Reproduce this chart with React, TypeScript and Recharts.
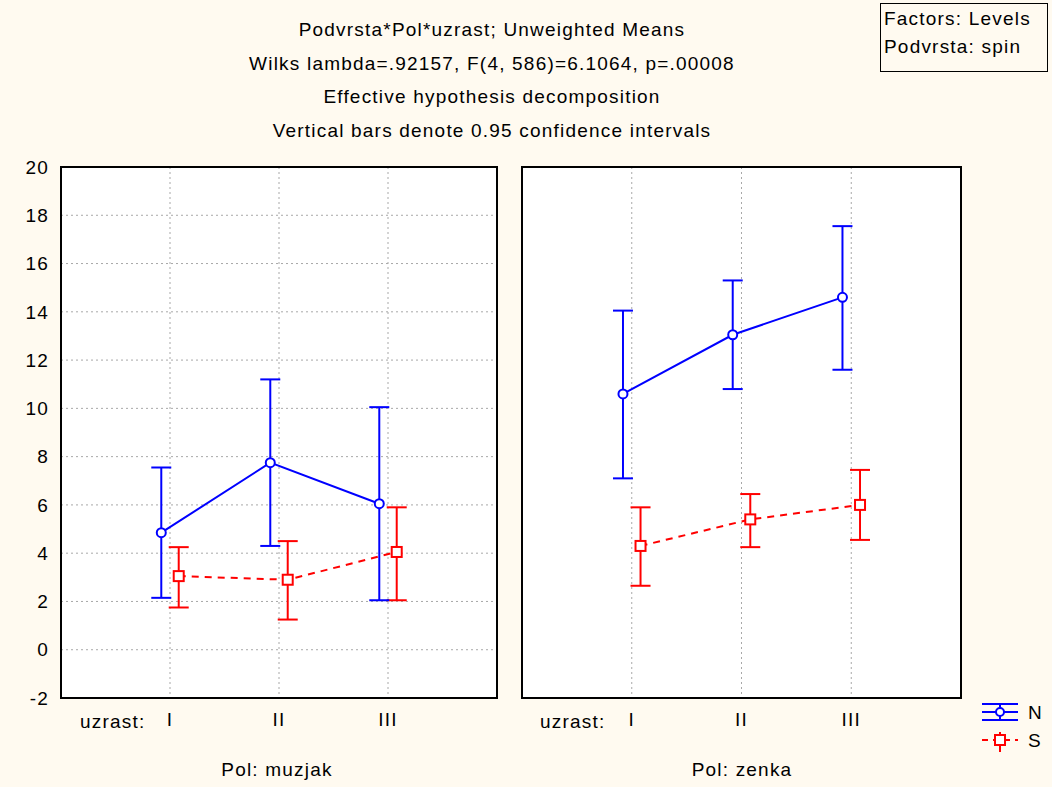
import React from "react";
import {
  ComposedChart, Line, XAxis, YAxis, CartesianGrid, ErrorBar, ReferenceArea
} from "recharts";

const LEVELS = ["I", "II", "III"];
const Y_TICKS = [-2, 0, 2, 4, 6, 8, 10, 12, 14, 16, 18, 20];
const TITLE_LINES = [
  "Podvrsta*Pol*uzrast; Unweighted Means",
  "Wilks lambda=.92157, F(4, 586)=6.1064, p=.00008",
  "Effective hypothesis decomposition",
  "Vertical bars denote 0.95 confidence intervals",
];

// Pol: muzjak
const N_MUZJAK_MEAN = [4.85, 7.75, 6.05];
const N_MUZJAK_LOW = [2.15, 4.3, 2.05];
const N_MUZJAK_HIGH = [7.55, 11.2, 10.05];
const S_MUZJAK_MEAN = [3.05, 2.9, 4.05];
const S_MUZJAK_LOW = [1.75, 1.25, 2.05];
const S_MUZJAK_HIGH = [4.25, 4.5, 5.9];

// Pol: zenka
const N_ZENKA_MEAN = [10.6, 13.05, 14.6];
const N_ZENKA_LOW = [7.1, 10.8, 11.6];
const N_ZENKA_HIGH = [14.05, 15.3, 17.55];
const S_ZENKA_MEAN = [4.3, 5.4, 6.0];
const S_ZENKA_LOW = [2.65, 4.25, 4.55];
const S_ZENKA_HIGH = [5.9, 6.45, 7.45];

const BLUE = "#0000FF";
const RED = "#FF0000";
const FONT = "'Liberation Sans', Arial, sans-serif";
const FS = 19;
const LS = 1.2;
const JITTER = 0.08;

function series(mean: number[], low: number[], high: number[], shift: number) {
  return mean.map((m, i) => ({
    x: i + 1 + shift,
    y: m,
    err: [m - low[i], high[i] - m],
  }));
}

const CircleDot = (p: any) => (
  <circle key={`c${p.index}`} cx={p.cx} cy={p.cy} r={4.5} fill="#fff" stroke={BLUE} strokeWidth={2} />
);
const SquareDot = (p: any) => (
  <rect key={`s${p.index}`} x={p.cx - 5} y={p.cy - 5} width={10} height={10} fill="#fff" stroke={RED} strokeWidth={2} />
);

const tickStyle = { fill: "#000", fontSize: FS, fontFamily: FONT, letterSpacing: LS };

interface PanelProps {
  n: any[];
  s: any[];
  left: number;
  width: number;
  marginLeft: number;
  marginRight: number;
  showY: boolean;
}

function Panel({ n, s, left, width, marginLeft, marginRight, showY }: PanelProps) {
  return (
    <div style={{ position: "absolute", left, top: 0 }}>
      <ComposedChart
        width={width}
        height={787}
        margin={{ top: 167, right: marginRight, left: marginLeft, bottom: 59 }}
      >
        <CartesianGrid fill="#fff" stroke="#a8a8a8" strokeDasharray="2 3" />
        <XAxis
          type="number"
          dataKey="x"
          domain={[0, 4]}
          ticks={[1, 2, 3]}
          tickFormatter={(v: number) => LEVELS[v - 1] ?? ""}
          height={30}
          axisLine={false}
          tickLine={false}
          tickSize={0}
          tickMargin={15}
          tick={tickStyle}
        />
        <YAxis
          type="number"
          domain={[-2, 20]}
          ticks={Y_TICKS}
          width={showY ? 45 : 0}
          axisLine={false}
          tickLine={false}
          tickSize={0}
          tickMargin={12}
          tick={showY ? tickStyle : false}
        />
        <Line
          data={s}
          dataKey="y"
          stroke={RED}
          strokeWidth={2}
          strokeDasharray="7 6"
          dot={SquareDot}
          activeDot={false}
          isAnimationActive={false}
        >
          <ErrorBar dataKey="err" direction="y" width={10} stroke={RED} strokeWidth={2} />
        </Line>
        <Line
          data={n}
          dataKey="y"
          stroke={BLUE}
          strokeWidth={2}
          dot={CircleDot}
          activeDot={false}
          isAnimationActive={false}
        >
          <ErrorBar dataKey="err" direction="y" width={10} stroke={BLUE} strokeWidth={2} />
        </Line>
        <ReferenceArea x1={0} x2={4} y1={-2} y2={20} fill="none" stroke="#000" strokeWidth={2} ifOverflow="visible" />
      </ComposedChart>
    </div>
  );
}

const txt: React.CSSProperties = {
  position: "absolute",
  fontFamily: FONT,
  fontSize: FS,
  letterSpacing: LS,
  color: "#000",
  whiteSpace: "nowrap",
  lineHeight: "20px",
};

export default function App() {
  return (
    <div
      style={{
        position: "absolute",
        left: 0,
        top: 0,
        width: 1052,
        height: 787,
        background: "#FFFAF0",
        overflow: "hidden",
      }}
    >
      {TITLE_LINES.map((t, i) => (
        <div key={i} style={{ ...txt, left: 242, width: 500, textAlign: "center", top: 20 + i * 33.7 }}>
          {t}
        </div>
      ))}

      <div
        style={{
          position: "absolute", left: 880, top: 3, width: 166, height: 67,
          border: "1px solid #000", background: "#FFFAF0",
        }}
      >
        <div style={{ ...txt, left: 3, top: 5 }}>Factors: Levels</div>
        <div style={{ ...txt, left: 3, top: 33 }}>Podvrsta: spin</div>
      </div>

      <Panel
        n={series(N_MUZJAK_MEAN, N_MUZJAK_LOW, N_MUZJAK_HIGH, -JITTER)}
        s={series(S_MUZJAK_MEAN, S_MUZJAK_LOW, S_MUZJAK_HIGH, JITTER)}
        left={0}
        width={520}
        marginLeft={16}
        marginRight={23}
        showY
      />
      <Panel
        n={series(N_ZENKA_MEAN, N_ZENKA_LOW, N_ZENKA_HIGH, -JITTER)}
        s={series(S_ZENKA_MEAN, S_ZENKA_LOW, S_ZENKA_HIGH, JITTER)}
        left={500}
        width={480}
        marginLeft={22}
        marginRight={19}
        showY={false}
      />

      <div style={{ ...txt, left: 80, top: 712 }}>uzrast:</div>
      <div style={{ ...txt, left: 540, top: 712 }}>uzrast:</div>
      <div style={{ ...txt, left: 177, width: 200, textAlign: "center", top: 760 }}>Pol: muzjak</div>
      <div style={{ ...txt, left: 642, width: 200, textAlign: "center", top: 760 }}>Pol: zenka</div>

      <svg style={{ position: "absolute", left: 978, top: 698 }} width={48} height={56}>
        <line x1={4} y1={6} x2={40} y2={6} stroke={BLUE} strokeWidth={2} />
        <line x1={4} y1={14} x2={40} y2={14} stroke={BLUE} strokeWidth={2} />
        <line x1={4} y1={22} x2={40} y2={22} stroke={BLUE} strokeWidth={2} />
        <line x1={22} y1={6} x2={22} y2={22} stroke={BLUE} strokeWidth={2} />
        <circle cx={22} cy={14} r={4} fill="#fff" stroke={BLUE} strokeWidth={2} />
        <line x1={4} y1={42} x2={40} y2={42} stroke={RED} strokeWidth={2} strokeDasharray="6 5" />
        <line x1={22} y1={34} x2={22} y2={54} stroke={RED} strokeWidth={2} />
        <rect x={17} y={37} width={10} height={10} fill="#fff" stroke={RED} strokeWidth={2} />
      </svg>
      <div style={{ ...txt, left: 1028, top: 703 }}>N</div>
      <div style={{ ...txt, left: 1028, top: 731 }}>S</div>
    </div>
  );
}
